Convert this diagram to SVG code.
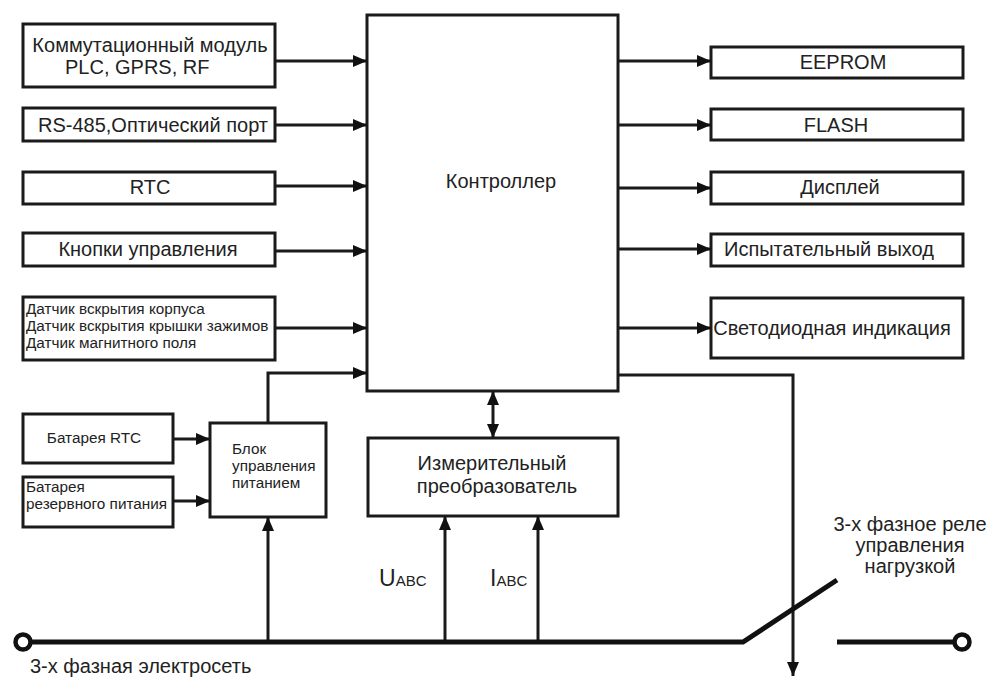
<svg xmlns="http://www.w3.org/2000/svg" width="989" height="677" viewBox="0 0 989 677">
<style>
.b{fill:#fff;stroke:#1a1a1a;stroke-width:3}
.c{fill:none;stroke:#1a1a1a;stroke-width:3}
.bus{fill:none;stroke:#111;stroke-width:5}
.t{font-family:"Liberation Sans",Arial,sans-serif;font-size:20px;fill:#222}
.s{font-family:"Liberation Sans",Arial,sans-serif;font-size:15.3px;fill:#222}
.m{text-anchor:middle}
</style>
<defs>
<marker id="a" viewBox="0 0 14 12" refX="14" refY="6" markerWidth="14" markerHeight="12" markerUnits="userSpaceOnUse" orient="auto-start-reverse">
<path d="M0,0 L14,6 L0,12 Z" fill="#111"/>
</marker>
</defs>
<rect width="989" height="677" fill="#fff"/>
<g id="controller"><rect class="b" x="367" y="15" width="251" height="376"/><text class="t m" x="501" y="188">Контроллер</text></g>
<g id="comm"><rect class="b" x="23" y="24" width="252" height="63"/><text class="t m" x="150" y="52">Коммутационный модуль</text><text class="t" x="65" y="74">PLC, GPRS, RF</text></g>
<g id="rs485"><rect class="b" x="23" y="108" width="252" height="33"/><text class="t m" x="153" y="132">RS-485,Оптический порт</text></g>
<g id="rtc"><rect class="b" x="23" y="172" width="252" height="32"/><text class="t m" x="150" y="194">RTC</text></g>
<g id="buttons"><rect class="b" x="23" y="233" width="252" height="33"/><text class="t m" x="148" y="256">Кнопки управления</text></g>
<g id="sensors"><rect class="b" x="23" y="297" width="252" height="63"/><text class="s" x="26" y="314">Датчик вскрытия корпуса</text><text class="s" x="26" y="331">Датчик вскрытия крышки зажимов</text><text class="s" x="26" y="348">Датчик магнитного поля</text></g>
<g id="eeprom"><rect class="b" x="711" y="47" width="252" height="31"/><text class="t m" x="843" y="69">EEPROM</text></g>
<g id="flash"><rect class="b" x="711" y="109" width="252" height="31"/><text class="t m" x="836" y="132">FLASH</text></g>
<g id="display"><rect class="b" x="711" y="172" width="252" height="32"/><text class="t m" x="840" y="194">Дисплей</text></g>
<g id="testout"><rect class="b" x="711" y="234" width="252" height="32"/><text class="t m" x="829" y="256">Испытательный выход</text></g>
<g id="led"><rect class="b" x="711" y="298" width="252" height="60"/><text class="t m" x="832" y="335">Светодиодная индикация</text></g>
<g id="batrtc"><rect class="b" x="23" y="414" width="150" height="49"/><text class="s m" x="94" y="443">Батарея RTC</text></g>
<g id="batres"><rect class="b" x="23" y="477" width="150" height="50"/><text class="s" x="26" y="492">Батарея</text><text class="s" x="26" y="509">резервного питания</text></g>
<g id="power"><rect class="b" x="210" y="423" width="116" height="94"/><text class="s" x="232" y="454">Блок</text><text class="s" x="232" y="471">управления</text><text class="s" x="232" y="488">питанием</text></g>
<g id="meter"><rect class="b" x="368" y="438" width="250" height="78"/><text class="t m" x="492" y="470">Измерительный</text><text class="t m" x="497" y="493">преобразователь</text></g>
<g id="labels">
<text class="t" x="379" y="586" style="font-size:23px">U<tspan style="font-size:15px">ABC</tspan></text>
<text class="t" x="490" y="586" style="font-size:23px">I<tspan style="font-size:15px">ABC</tspan></text>
<text class="t m" x="910" y="531">3-х фазное реле</text>
<text class="t m" x="910" y="552">управления</text>
<text class="t m" x="910" y="573">нагрузкой</text>
<text class="t" x="30" y="673">3-х фазная электросеть</text>
</g>
<g id="connectors">
<path class="c" marker-end="url(#a)" d="M275,61 H367"/>
<path class="c" marker-end="url(#a)" d="M275,125 H367"/>
<path class="c" marker-end="url(#a)" d="M275,186 H367"/>
<path class="c" marker-end="url(#a)" d="M275,251 H367"/>
<path class="c" marker-end="url(#a)" d="M275,328 H367"/>
<path class="c" marker-end="url(#a)" d="M268,423 V373 H367"/>
<path class="c" marker-end="url(#a)" d="M618,61 H711"/>
<path class="c" marker-end="url(#a)" d="M618,125 H711"/>
<path class="c" marker-end="url(#a)" d="M618,188 H711"/>
<path class="c" marker-end="url(#a)" d="M618,249 H711"/>
<path class="c" marker-end="url(#a)" d="M618,328 H711"/>
<path class="c" marker-end="url(#a)" d="M618,375 H793 V676"/>
<path class="c" marker-start="url(#a)" marker-end="url(#a)" d="M493,391 V438"/>
<path class="c" marker-end="url(#a)" d="M173,439 H210"/>
<path class="c" marker-end="url(#a)" d="M173,501 H210"/>
<path class="c" marker-end="url(#a)" d="M268,642 V517"/>
<path class="c" marker-end="url(#a)" d="M445,642 V516"/>
<path class="c" marker-end="url(#a)" d="M538,642 V516"/>
<path class="bus" d="M30,642 H743 L837,580"/>
<path class="bus" d="M837,642 H955"/>
<circle cx="23" cy="642" r="7.5" fill="#fff" stroke="#111" stroke-width="4.5"/>
<circle cx="962" cy="642" r="7.5" fill="#fff" stroke="#111" stroke-width="4.5"/>
</g>
</svg>
